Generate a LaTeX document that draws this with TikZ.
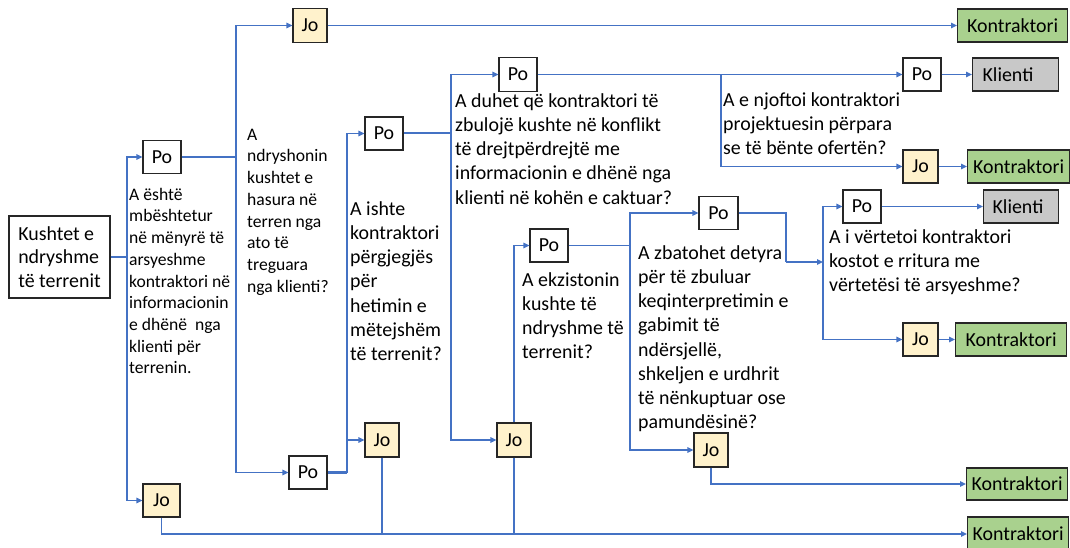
\documentclass[tikz,border=0pt]{standalone}
\usepackage{fontspec}
\setmainfont{Carlito}
\usetikzlibrary{arrows.meta}

\definecolor{flow}{HTML}{4472C4}
\definecolor{nofill}{HTML}{FFF2CC}
\definecolor{okfill}{HTML}{A9D18E}
\definecolor{clfill}{HTML}{C8C8C8}

\newcommand\mainsz{\fontsize{19.9pt}{24.2pt}\selectfont}
\newcommand\smallsz{\fontsize{17.6pt}{21.7pt}\selectfont}
\newcommand\startsz{\fontsize{19.9pt}{23.5pt}\selectfont}

\tikzset{
  box/.style={draw=black!85, line width=1.2pt, inner sep=0pt, font=\mainsz,
              minimum height=33pt},
  yes/.style={box, fill=white, minimum width=38pt},
  no/.style={box, fill=nofill, minimum width=35pt},
  contr/.style={box, fill=okfill, anchor=west},
  client/.style={box, fill=clfill, anchor=west, align=left},
  question/.style={anchor=north west, inner sep=0pt, align=left, font=\mainsz},
  link/.style={draw=flow, line width=1.5pt},
  go/.style={link, -{Triangle[length=6pt,width=5.5pt]}},
}

\begin{document}
\begin{tikzpicture}[x=1pt, y=-1pt]
\useasboundingbox (0,0) rectangle (1070,548);
\clip (0,0) rectangle (1070,548);

% start box
\node[box, fill=white, minimum width=101pt, minimum height=82pt, align=left,
      font=\startsz] (start) at (59.5,257) {Kushtet e\\ndryshme\\të terrenit};

% answer boxes
\node[yes] (po1) at (162,157) {Po};
\node[no, minimum width=37pt] (jo1) at (161.5,500.5) {Jo};
\node[no, minimum width=34pt, minimum height=34pt] (jo2) at (310,25.5) {Jo};
\node[yes] (po2) at (308,472.5) {Po};
\node[yes] (po3) at (384,133.5) {Po};
\node[no, minimum width=34pt, minimum height=34pt] (jo3) at (382,440) {Jo};
\node[yes, minimum height=34pt] (po4) at (518,74.5) {Po};
\node[no, minimum width=34pt, minimum height=34pt] (jo4) at (514,440) {Jo};
\node[yes] (po5) at (549,245.5) {Po};
\node[yes, minimum width=39pt] (po6) at (718.5,213) {Po};
\node[no, minimum width=34pt, minimum height=34pt] (jo6) at (711,450) {Jo};
\node[yes] (po7) at (862,206.5) {Po};
\node[no] (jo7) at (920.5,339.5) {Jo};
\node[yes] (po8) at (922,74.5) {Po};
\node[no] (jo8) at (920.5,166.5) {Jo};

% outcome boxes
\node[contr, minimum width=110pt] (k1) at (957,25.5) {Kontraktori};
\node[contr, minimum width=102pt] (k2) at (967,166.5) {Kontraktori};
\node[contr, minimum width=111pt] (k3) at (955,339.5) {Kontraktori};
\node[contr, minimum width=101pt, minimum height=32pt] (k4) at (966,484) {Kontraktori};
\node[contr, minimum width=101pt, minimum height=34pt] (k5) at (967,534) {Kontraktori};
\node[client, minimum width=86pt, text width=66pt] (kl1) at (972,74.5) {Klienti};
\node[client, minimum width=75pt, text width=57pt] (kl2) at (983,206.5) {Klienti};

% questions
\node[question, font=\smallsz] (q1) at (129,184.9)
  {\strut A është\\mbështetur\\në mënyrë të\\arsyeshme\\kontraktori në\\informacionin\\e dhënë\ \ nga\\klienti për\\terrenin.};
\node[question, font=\smallsz] (q2) at (247,124.9)
  {\strut A\\ndryshonin\\kushtet e\\hasura në\\terren nga\\ato të\\treguara\\nga klienti?};
\node[question] (q3) at (350,198.1)
  {\strut A ishte\\kontraktori\\përgjegjës\\për\\hetimin e\\mëtejshëm\\të terrenit?};
\node[question] (q4) at (455,90.1)
  {\strut A duhet që kontraktori të\\zbulojë kushte në konflikt\\të drejtpërdrejtë me\\informacionin e dhënë nga\\klienti në kohën e caktuar?};
\node[question] (q5) at (522,269.1)
  {\strut A ekzistonin\\kushte të\\ndryshme të\\terrenit?};
\node[question] (q6) at (638,242.1)
  {\strut A zbatohet detyra\\për të zbuluar\\keqinterpretimin e\\gabimit të\\ndërsjellë,\\shkeljen e urdhrit\\të nënkuptuar ose\\pamundësinë?};
\node[question] (q7) at (829,226.1)
  {\strut A i vërtetoi kontraktori\\kostot e rritura me\\vërtetësi të arsyeshme?};
\node[question] (q8) at (723,89.1)
  {\strut A e njoftoi kontraktori\\projektuesin përpara\\se të bënte ofertën?};

% junction points
\coordinate (j1) at (127,257);
\coordinate (j2) at (236,157);
\coordinate (j3) at (347,472.5);
\coordinate (j4) at (451,133.5);
\coordinate (j5) at (721,74.5);
\coordinate (j6) at (630,245.5);
\coordinate (j7) at (786,262);
\coordinate (j8) at (823,262);

% connectors
\draw[link] (start.east) -- (j1);
\draw[go] (j1) |- (po1.west);
\draw[go] (j1) |- (jo1.west);

\draw[link] (po1.east) -- (j2);
\draw[go] (j2) |- (jo2.west);
\draw[go] (j2) |- (po2.west);
\draw[go] (jo2.east) -- (k1.west);

\draw[link, line width=2.2pt] (po2.east) -- (j3);
\draw[go] (j3) |- (po3.west);
\draw[go] (j3) |- (jo3.west);

\draw[link, line width=2pt] (po3.east) -- (j4);
\draw[go] (j4) |- (po4.west);
\draw[go] (j4) |- (jo4.west);

\draw[go] (po4.east) -- (po8.west);
\draw[go] (j5) |- (jo8.west);
\draw[go] (po8.east) -- (kl1.west);
\draw[go] (jo8.east) -- (k2.west);

\draw[go] (jo4.north) |- (po5.west);
\draw[link] (po5.east) -- (j6);
\draw[go] (j6) |- (po6.west);
\draw[go] (j6) |- (jo6.west);
\draw[go] (jo6.south) |- (k4.west);

\draw[link] (po6.east) -| (j7);
\draw[go] (j7) -- (j8);
\draw[go] (j8) |- (po7.west);
\draw[go] (j8) |- (jo7.west);
\draw[go] (po7.east) -- (kl2.west);
\draw[go] (jo7.east) -- (k3.west);

\draw[go] (jo1.south) |- (k5.west);
\draw[link] (jo3.south) -- (jo3.south |- k5.west);
\draw[link] (jo4.south) -- (jo4.south |- k5.west);
\end{tikzpicture}
\end{document}
